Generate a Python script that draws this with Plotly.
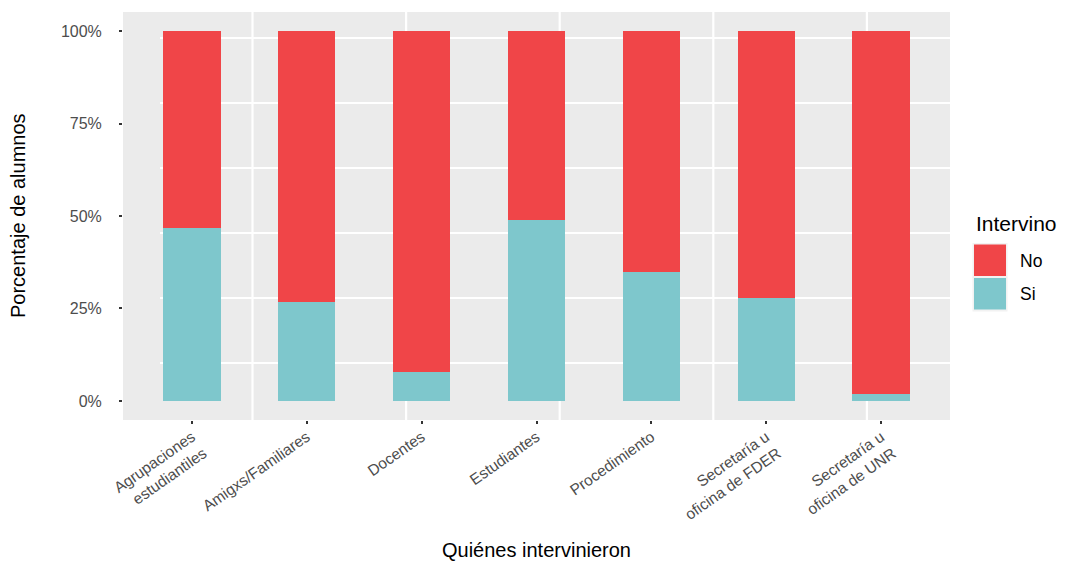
import plotly.graph_objects as go

# ---- data ----
categories = [
    "Agrupaciones<br>estudiantiles",
    "Amigxs/Familiares",
    "Docentes",
    "Estudiantes",
    "Procedimiento",
    "Secretaría u<br>oficina de FDER",
    "Secretaría u<br>oficina de UNR",
]
si_values = [0.467, 0.267, 0.078, 0.489, 0.349, 0.279, 0.019]
no_values = [0.533, 0.733, 0.922, 0.511, 0.651, 0.721, 0.981]
y_tick_vals = [0, 0.25, 0.5, 0.75, 1.0]
y_tick_text = ["0%", "25%", "50%", "75%", "100%"]
x_title = "Quiénes intervinieron"
y_title = "Porcentaje de alumnos"
legend_title = "Intervino"
legend_labels = ["No", "Si"]

# ---- style ----
W, H = 1065, 561
ML, MR, MT, MB = 123, 115, 12, 141
PW, PH = W - ML - MR, H - MT - MB
RED = "#F04548"
TEAL = "#7EC7CC"
PANEL = "#EBEBEB"
FONT = "Liberation Sans, Arial, sans-serif"


def px_x(px):
    return (px - ML) / PW


def px_y(py):
    return (H - MB - py) / PH


fig = go.Figure()
fig.add_trace(go.Bar(x=categories, y=si_values, name="Si", marker=dict(color=TEAL, line=dict(width=0)),
                     width=0.5, showlegend=False))
fig.add_trace(go.Bar(x=categories, y=no_values, name="No", marker=dict(color=RED, line=dict(width=0)),
                     width=0.5, showlegend=False))

shapes = []
# panel grid lines (as drawn in the reference)
for i in range(6):
    yy = px_y(38 + 65 * i)
    shapes.append(dict(type="line", xref="paper", yref="paper", x0=px_x(160), x1=1, y0=yy, y1=yy,
                       line=dict(color="white", width=2), layer="below"))
for i in range(5):
    xx = px_x(252.5 + 153.6 * i)
    shapes.append(dict(type="line", xref="paper", yref="paper", x0=xx, x1=xx, y0=0, y1=1,
                       line=dict(color="white", width=2.2), layer="below"))

annotations = [
    dict(text=x_title, xref="paper", yref="paper", x=0.5, y=px_y(550),
         xanchor="center", yanchor="middle", showarrow=False,
         font=dict(family=FONT, size=20, color="#000000")),
    dict(text=y_title, xref="paper", yref="paper", x=px_x(18), y=px_y(216), textangle=-90,
         xanchor="center", yanchor="middle", showarrow=False,
         font=dict(family=FONT, size=20, color="#000000")),
    dict(text=legend_title, xref="paper", yref="paper", x=px_x(974), y=px_y(224),
         xanchor="left", yanchor="middle", showarrow=False,
         font=dict(family=FONT, size=21, color="#000000")),
]

# custom legend keys
key_colors = [RED, TEAL]
for i, (lab, col) in enumerate(zip(legend_labels, key_colors)):
    top = 244 + 33.5 * i
    shapes.append(dict(type="rect", xref="paper", yref="paper", x0=px_x(972.5), x1=px_x(1007.5),
                       y0=px_y(top - 1), y1=px_y(top + 34), fillcolor="#F2F2F2", line=dict(width=0)))
    shapes.append(dict(type="rect", xref="paper", yref="paper", x0=px_x(974), x1=px_x(1006),
                       y0=px_y(top + 0.5), y1=px_y(top + 32), fillcolor=col, line=dict(width=0)))
    annotations.append(dict(text=lab, xref="paper", yref="paper", x=px_x(1018), y=px_y(top + 16.5),
                            xanchor="left", yanchor="middle", showarrow=False,
                            font=dict(family=FONT, size=17.5, color="#000000")))

fig.update_layout(
    width=W, height=H,
    margin=dict(l=ML, r=MR, t=MT, b=MB, pad=0),
    barmode="stack",
    paper_bgcolor="white",
    plot_bgcolor=PANEL,
    font=dict(family=FONT, color="#4D4D4D"),
    showlegend=False,
    shapes=shapes,
    annotations=annotations,
    xaxis=dict(
        range=[-0.6, 6.6],
        automargin=False,
        showgrid=False, zeroline=False, showline=False,
        ticks="outside", ticklen=3, tickwidth=2, tickcolor="#333333",
        tickangle=-35, ticklabelstandoff=-2,
        tickfont=dict(family=FONT, size=15.5, color="#4D4D4D"),
    ),
    yaxis=dict(
        range=[-0.0514, 1.0514],
        automargin=False,
        tickvals=y_tick_vals, ticktext=y_tick_text,
        showgrid=False, zeroline=False, showline=False,
        ticks="outside", ticklen=3, tickwidth=2, tickcolor="#333333",
        ticklabelstandoff=14,
        tickfont=dict(family=FONT, size=16, color="#4D4D4D"),
    ),
)

fig.write_html("out.html", config={"displayModeBar": False},
               post_script="document.body.style.margin='0';document.body.style.overflow='hidden';")
